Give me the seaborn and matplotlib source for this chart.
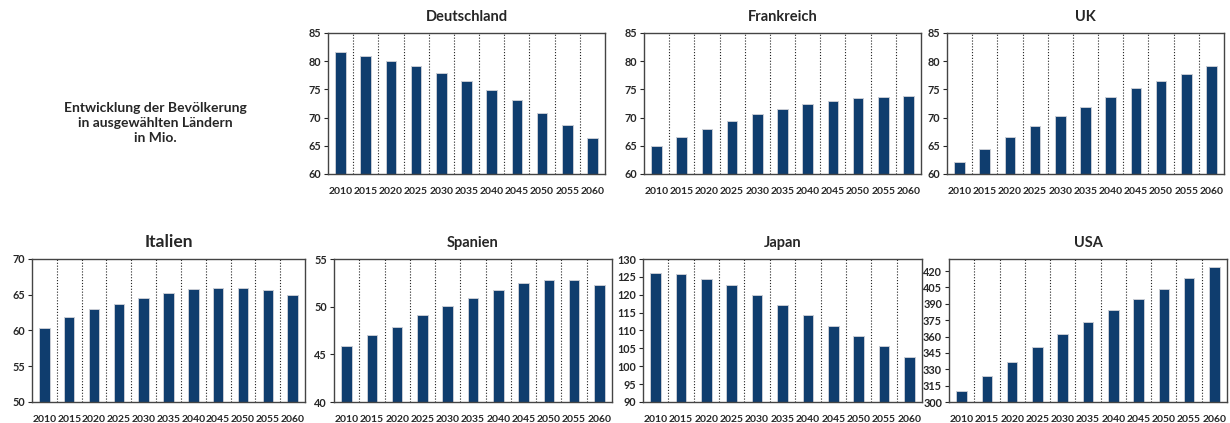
import numpy as np
import pandas as pd
import matplotlib
matplotlib.use("Agg")
import matplotlib.pyplot as plt
import seaborn as sns

# Daten (in Mio.)
jahre = ["2010", "2015", "2020", "2025", "2030", "2035", "2040", "2045", "2050", "2055", "2060"]

deutschland = [81.7, 81.0, 80.1, 79.2, 77.9, 76.5, 74.9, 73.1, 70.8, 68.7, 66.4]
frankreich = [64.9, 66.6, 68.0, 69.4, 70.6, 71.5, 72.4, 73.0, 73.4, 73.6, 73.8]
uk = [62.1, 64.5, 66.5, 68.5, 70.3, 71.9, 73.6, 75.2, 76.5, 77.7, 79.1]
italien = [60.4, 61.9, 63.0, 63.7, 64.5, 65.2, 65.8, 66.0, 66.0, 65.6, 65.0]
spanien = [45.9, 47.0, 47.9, 49.1, 50.1, 50.9, 51.8, 52.5, 52.8, 52.8, 52.3]
japan = [126.2, 125.8, 124.4, 122.6, 120.0, 117.0, 114.2, 111.2, 108.6, 105.7, 102.7]
usa = [310.1, 323.8, 336.9, 350.4, 362.3, 373.3, 384.0, 394.0, 403.5, 413.3, 424.0]

laender = ["Deutschland", "Frankreich", "UK", "Italien", "Spanien", "Japan", "USA"]
werte = [deutschland, frankreich, uk, italien, spanien, japan, usa]
y_ticks = [
    [60, 65, 70, 75, 80, 85],
    [60, 65, 70, 75, 80, 85],
    [60, 65, 70, 75, 80, 85],
    [50, 55, 60, 65, 70],
    [40, 45, 50, 55],
    [90, 95, 100, 105, 110, 115, 120, 125, 130],
    [300, 315, 330, 345, 360, 375, 390, 405, 420],
]
y_lims = [(60, 85), (60, 85), (60, 85), (50, 70), (40, 55), (90, 130), (300, 431)]

# Achsen in Pixeln (links, oben, rechts, unten)
W, H = 1230, 423
boxen = [
    (328, 33, 605, 174),
    (644, 33, 921, 174),
    (947, 33, 1224, 174),
    (32, 259, 305, 402),
    (334, 259, 612, 402),
    (643, 259, 922, 402),
    (949, 259, 1227, 402),
]

sns.set_style("white")
plt.rcParams["font.family"] = ["Lato", "DejaVu Sans"]

farbe = "#0f3d6e"
fig = plt.figure(figsize=(W / 100, H / 100), dpi=100)

for i, land in enumerate(laender):
    l, t, r, b = boxen[i]
    ax = fig.add_axes([l / W, (H - b) / H, (r - l) / W, (b - t) / H])
    df = pd.DataFrame({"Jahr": jahre, "Wert": werte[i]})
    sns.barplot(data=df, x="Jahr", y="Wert", ax=ax, color=farbe, width=0.42,
                edgecolor="#c8ccd4", linewidth=0.7, saturation=1)
    for k in range(len(jahre) - 1):
        ax.axvline(k + 0.5, color="#222222", linestyle=(0, (1, 1.6)), linewidth=0.8, zorder=0)
    ax.set_xlim(-0.5, len(jahre) - 0.5)
    ax.set_ylim(*y_lims[i])
    ax.set_yticks(y_ticks[i])
    ax.set_xlabel("")
    ax.set_ylabel("")
    groesse = 12.5 if land == "Italien" else 10.5
    ax.set_title(land, fontsize=groesse, fontweight="bold", pad=9)
    ax.tick_params(axis="y", left=True, length=3, width=0.8, pad=2, labelsize=7.8)
    ax.tick_params(axis="x", bottom=False, pad=6, labelsize=7.5)
    for lab in ax.get_xticklabels() + ax.get_yticklabels():
        lab.set_fontweight("bold")
    for s in ax.spines.values():
        s.set_color("#444444")
        s.set_linewidth(1.0)

fig.text(155 / W, 1 - 123 / H,
         "Entwicklung der Bevölkerung\nin ausgewählten Ländern\nin Mio.",
         ha="center", va="center", fontsize=10, fontweight="bold", linespacing=1.25)

fig.savefig("out.png", dpi=100)
